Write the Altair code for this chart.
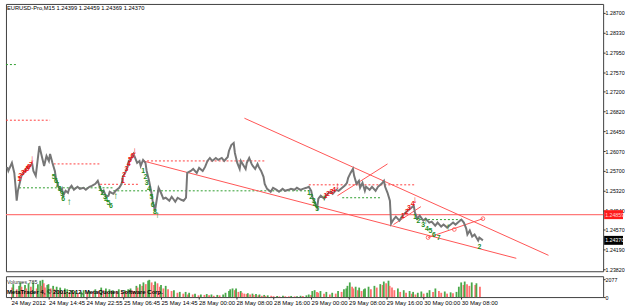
import altair as alt
import pandas as pd

# ---------------- data ----------------
bars = [
    1, 2, 5, 7, 8, 9, 10, 12, 13, 15,
    17, 19, 22, 23, 25, 26, 27, 28, 29, 31,
    32, 34, 36, 37, 39, 41, 42, 44, 46, 47,
    48, 50, 52, 53, 55, 57, 60, 62, 65, 67,
    70, 72, 75, 77, 79, 81, 82, 84, 86, 87,
    90, 92, 95, 97, 98, 100, 102, 103, 105, 107,
    108, 110, 112, 113, 115, 117, 118, 120, 122, 123,
    125, 127, 128, 130, 132, 134, 137, 139, 142, 144,
    147, 149, 151, 152, 155, 157, 160, 162, 165, 167,
    169, 171, 173, 176, 178, 181, 183, 186, 187, 189,
    191, 192, 194, 196, 197, 199, 201, 202, 204, 206,
    207, 209, 211, 212, 214, 216, 217, 219, 222, 224,
    227, 229, 232, 234, 237, 239, 242, 244, 247, 249,
    252, 254, 256, 257, 259, 261, 262, 264, 267, 269,
    272, 274, 277, 279, 282, 284, 286, 287, 289, 291,
    292, 294, 296, 297, 299, 301, 302, 305, 307, 310,
    312, 315, 317, 318, 320, 322, 323, 325, 327, 330,
    332, 335, 337, 340, 342, 343, 345, 347, 350, 352,
    355, 357, 360, 362, 365, 367, 370, 372, 375, 377,
    380, 382, 384, 386, 387, 389, 391, 393, 396, 397,
    400,
]

close = [
    1.25768, 1.25692, 1.25844, 1.25654, 1.25408, 1.25124, 1.25313, 1.25503, 1.25598, 1.25654,
    1.25730, 1.25768, 1.25825, 1.25692, 1.25598, 1.25787, 1.25976, 1.26165, 1.26071, 1.25882,
    1.25787, 1.25976, 1.25882, 1.26014, 1.25844, 1.25692, 1.25541, 1.25389, 1.25313, 1.25351,
    1.25219, 1.25313, 1.25276, 1.25351, 1.25408, 1.25332, 1.25389, 1.25351, 1.25370, 1.25332,
    1.25389, 1.25408, 1.25446, 1.25503, 1.25370, 1.25276, 1.25313, 1.25200, 1.25219, 1.25295,
    1.25257, 1.25313, 1.25370, 1.25446, 1.25579, 1.25654, 1.25768, 1.25882, 1.25920, 1.26014,
    1.25957, 1.25844, 1.25882, 1.25787, 1.25901, 1.25844, 1.25692, 1.25503, 1.25276, 1.25124,
    1.24935, 1.25219, 1.25370, 1.25276, 1.25162, 1.25181, 1.25124, 1.25200, 1.25105, 1.25181,
    1.25143, 1.25124, 1.25181, 1.25654, 1.25692, 1.25730, 1.25654, 1.25749, 1.25692, 1.25768,
    1.25882, 1.25938, 1.25882, 1.25938, 1.25901, 1.25938, 1.25882, 1.25957, 1.26071, 1.26184,
    1.26222, 1.26033, 1.25844, 1.25730, 1.25882, 1.25806, 1.25730, 1.25844, 1.25938, 1.25825,
    1.25787, 1.25730, 1.25825, 1.25768, 1.25692, 1.25579, 1.25446, 1.25351, 1.25295, 1.25370,
    1.25332, 1.25295, 1.25351, 1.25313, 1.25332, 1.25351, 1.25332, 1.25370, 1.25332, 1.25351,
    1.25370, 1.25389, 1.25313, 1.25200, 1.25086, 1.24992, 1.25162, 1.25219, 1.25162, 1.25238,
    1.25295, 1.25257, 1.25332, 1.25313, 1.25370, 1.25408, 1.25465, 1.25560, 1.25654, 1.25730,
    1.25598, 1.25446, 1.25503, 1.25370, 1.25465, 1.25313, 1.25389, 1.25332, 1.25389, 1.25313,
    1.25389, 1.25446, 1.25503, 1.25389, 1.25276, 1.25124, 1.24689, 1.24765, 1.24821, 1.24746,
    1.24821, 1.24897, 1.24935, 1.24992, 1.25030, 1.24897, 1.24783, 1.24840, 1.24746, 1.24783,
    1.24708, 1.24727, 1.24651, 1.24708, 1.24632, 1.24670, 1.24613, 1.24651, 1.24708, 1.24670,
    1.24727, 1.24765, 1.24708, 1.24594, 1.24480, 1.24556, 1.24442, 1.24480, 1.24367, 1.24424,
    1.24370,
]

volume = [
    1100, 1500, 900, 1300, 1700, 1200, 800, 1400, 1000, 1600,
    1200, 1700, 1000, 1500, 1900, 1300, 2000, 1600, 1100, 1400,
    1500, 1000, 1300, 900, 1200, 800, 1100, 700, 1000, 600,
    900, 500, 800, 600, 700, 400, 600, 800, 500, 700,
    600, 900, 700, 1100, 800, 1000, 600, 900, 700, 800,
    700, 900, 600, 800, 700, 900, 1000, 800, 700, 1300,
    1100, 1500, 1300, 1700, 1500, 1900, 2000, 1700, 1400, 1800,
    1600, 1200, 1400, 1000, 1300, 900, 700, 800, 500, 600,
    400, 600, 300, 500, 300, 400, 200, 300, 250, 350,
    200, 300, 150, 250, 200, 300, 500, 700, 900, 1000,
    800, 1000, 600, 700, 500, 400, 350, 450, 300, 400,
    250, 350, 200, 300, 150, 250, 120, 200, 150, 100,
    120, 80, 150, 100, 90, 130, 80, 100, 150, 120,
    200, 300, 250, 700, 800, 600, 500, 700, 400, 600,
    300, 500, 400, 700, 600, 900, 1000, 1300, 1700, 1200,
    1000, 1200, 800, 1100, 700, 900, 1000, 1200, 900, 1300,
    1100, 1500, 1400, 1800, 1600, 1900, 1300, 1100, 800, 1000,
    600, 800, 500, 700, 400, 600, 300, 500, 650, 400,
    500, 800, 600, 1000, 700, 500, 650, 400, 550, 450,
    600, 1200, 1700, 1400, 1800, 1500, 1300, 1700, 1400, 1600,
    1200,
]

price_ticks = [1.28700, 1.28330, 1.27950, 1.27570, 1.27200, 1.26820, 1.26450,
               1.26070, 1.25700, 1.25320, 1.24940, 1.24570, 1.24190, 1.23820]
time_labels = ["24 May 2012", "24 May 14:45", "24 May 22:55", "25 May 06:45",
               "25 May 14:45", "28 May 00:00", "28 May 08:00", "28 May 16:00",
               "29 May 00:00", "29 May 08:00", "29 May 16:00", "30 May 00:00",
               "30 May 08:00"]
label_bars = [0, 32, 64, 96, 128, 160, 192, 224, 256, 288, 320, 352, 384]

# trend lines
tl_bar0 = [115, 200, 278, 325, 354]
tl_p0 = [1.25882, 1.26695, 1.25219, 1.24670, 1.24424]
tl_bar1 = [428, 455, 320, 348, 400]
tl_p1 = [1.24028, 1.24085, 1.25825, 1.25012, 1.24783]

# dotted horizontal levels
lv_bar0 = [0, 0, 40, 11, 79, 90, 115, 254, 282, 344]
lv_bar1 = [37, 10, 79, 90, 111, 254, 218, 343, 315, 382]
lv_price = [1.26657, 1.27716, 1.25825, 1.25370, 1.25437, 1.25313, 1.25882,
            1.25427, 1.25181, 1.24765]
lv_kind = ["r", "g", "r", "g", "r", "g", "r", "r", "g", "g"]

# count annotations
ann_bar = [11, 12, 14, 16, 18, 19, 21, 22,
           98, 99, 101, 103, 104, 106, 108,
           268, 270, 273, 275, 278,
           333, 336, 338, 341, 343,
           40, 42, 43, 45, 47, 48, 53,
           79, 81, 83, 84, 86, 88, 92,
           115, 117, 118, 120, 122, 123, 125, 127,
           254, 256, 258, 259, 261, 267,
           343, 346, 350, 353, 356, 359, 363, 352, 371,
           397]
ann_price = [1.25541, 1.25598, 1.25654, 1.25692, 1.25730, 1.25768, 1.25806, 1.25920,
             1.25503, 1.25617, 1.25730, 1.25825, 1.25901, 1.25976, 1.26071,
             1.25219, 1.25257, 1.25295, 1.25332, 1.25408,
             1.24840, 1.24917, 1.24992, 1.25068, 1.25143,
             1.25579, 1.25503, 1.25427, 1.25351, 1.25257, 1.25162, 1.25105,
             1.25351, 1.25276, 1.25200, 1.25143, 1.25086, 1.25030, 1.25219,
             1.25692, 1.25579, 1.25465, 1.25351, 1.25200, 1.25049, 1.24917, 1.24859,
             1.25276, 1.25200, 1.25124, 1.25049, 1.24974, 1.25181,
             1.24821, 1.24746, 1.24670, 1.24594, 1.24539, 1.24480, 1.24424, 1.24746, 1.24632,
             1.24236]
ann_text = ["1", "2", "3", "4", "5", "6", "7", "↓",
            "1", "2", "3", "4", "5", "6", "↓",
            "1", "2", "3", "4", "↓",
            "1", "2", "3", "4", "↓",
            "5", "6", "7", "8", "9", "6", "↑",
            "1", "2", "3", "4", "5", "6", "↑",
            "1", "2", "3", "4", "5", "6", "8", "↑",
            "1", "2", "3", "4", "5", "↑",
            "1", "2", "3", "4", "5", "6", "7", "↑", "↑",
            "2"]
ann_kind = ["r"] * 25 + ["g"] * 38

circle_bar = [354, 376, 400]
circle_price = [1.24424, 1.24577, 1.24783]

support_price = 1.24859
last_price = 1.24370
header = "EURUSD-Pro,M15  1.24399 1.24459 1.24369 1.24370"

# ---------------- chart ----------------
W, HM, HV = 601, 269, 21
FONT = "Liberation Sans"
FS = 5.3
xs = alt.Scale(domain=[0, W / 1.2], nice=False, zero=False)
ys = alt.Scale(domain=[1.23782, 1.28870], nice=False, zero=False)
yax = alt.Axis(orient="right", values=price_ticks, format=".5f", labelFont=FONT,
               labelFontSize=FS, labelColor="black", tickSize=2, tickColor="#333",
               labelPadding=0, grid=False, domain=False, labelOverlap=False)

price_df = pd.DataFrame({"bar": bars, "price": close})
tl_df = pd.DataFrame({"b0": tl_bar0, "p0": tl_p0, "b1": tl_bar1, "p1": tl_p1})
lv_df = pd.DataFrame({"b0": lv_bar0, "b1": lv_bar1, "price": lv_price,
                      "col": ["#ff4040" if k == "r" else "#2e9e2e" for k in lv_kind]})
ann_df = pd.DataFrame({"bar": ann_bar, "price": ann_price, "t": ann_text,
                       "col": ["#ee1111" if k == "r" else "#1e8c1e" for k in ann_kind]})
ann_df["size"] = [10 if t in ("↑", "↓") else 7 for t in ann_text]
circ_df = pd.DataFrame({"bar": circle_bar, "price": circle_price})
box_df = pd.DataFrame({"price": [support_price, last_price],
                       "lbl": [f"{support_price:.5f}", f"{last_price:.5f}"],
                       "bg": ["#ff1a1a", "#000000"], "fg": ["#ffd0d0", "#ffffff"]})

levels = alt.Chart(lv_df).mark_rule(strokeDash=[2, 2], strokeWidth=1).encode(
    x=alt.X("b0:Q", scale=xs, axis=None), x2="b1:Q",
    y=alt.Y("price:Q", scale=ys, axis=yax, title=None),
    color=alt.Color("col:N", scale=None))

support = alt.Chart(pd.DataFrame({"price": [support_price]})).mark_rule(
    color="#ff7a7a", strokeWidth=1.3).encode(
    y=alt.Y("price:Q", scale=ys, axis=yax, title=None))

trends = alt.Chart(tl_df).mark_rule(color="#ff5555", strokeWidth=1).encode(
    x=alt.X("b0:Q", scale=xs, axis=None), x2="b1:Q",
    y=alt.Y("p0:Q", scale=ys, axis=yax, title=None), y2="p1:Q")

line = alt.Chart(price_df).mark_line(color="#767676", strokeWidth=2).encode(
    x=alt.X("bar:Q", scale=xs, axis=None),
    y=alt.Y("price:Q", scale=ys, axis=yax, title=None))

ann = alt.Chart(ann_df).mark_text(font=FONT, fontWeight="bold").encode(
    x=alt.X("bar:Q", scale=xs, axis=None),
    y=alt.Y("price:Q", scale=ys, axis=yax, title=None),
    text="t:N", color=alt.Color("col:N", scale=None),
    size=alt.Size("size:Q", scale=None, legend=None))

circles = alt.Chart(circ_df).mark_point(shape="circle", filled=False, color="#ff3030",
                                         size=14, strokeWidth=1).encode(
    x=alt.X("bar:Q", scale=xs, axis=None),
    y=alt.Y("price:Q", scale=ys, axis=yax, title=None))

head = alt.Chart(pd.DataFrame({"t": [header]})).mark_text(
    font=FONT, fontSize=5.8, align="left", baseline="middle", color="black").encode(
    text="t:N", x=alt.value(1), y=alt.value(4))

boxes = alt.Chart(box_df).transform_calculate(
    lo="datum.price - 0.00085", hi="datum.price + 0.00085").mark_rect().encode(
    x=alt.value(W + 1), x2=alt.value(W + 20),
    y=alt.Y("lo:Q", scale=ys, axis=yax, title=None), y2="hi:Q",
    color=alt.Color("bg:N", scale=None))
box_txt = alt.Chart(box_df).mark_text(font=FONT, fontSize=FS, align="left",
                                      baseline="middle").encode(
    x=alt.value(W + 2),
    y=alt.Y("price:Q", scale=ys, axis=yax, title=None),
    text="lbl:N", color=alt.Color("fg:N", scale=None))

main = alt.layer(levels, support, trends, line, ann, circles, head, boxes, box_txt
                 ).properties(width=W, height=HM)

# volume panel
vol_df = pd.DataFrame({"bar": bars, "vol": volume})
vol_df["col"] = ["#4aa84a" if i > 0 and v > volume[i - 1] else "#ff6f6f"
                 for i, v in enumerate(volume)]
label_expr = "[" + ",".join(f"'{t}'" for t in time_labels) + "][round(datum.value/32)]"
vxs = alt.Axis(values=label_bars, labelExpr=label_expr, labelAlign="left",
               labelFont=FONT, labelFontSize=6, labelColor="black", tickSize=2,
               tickColor="#333", labelPadding=0, grid=False, domain=False,
               labelOverlap=False, labelFlush=False, title=None)
vys = alt.Axis(orient="right", values=[0, 2077], format="d", labelFont=FONT,
               labelFontSize=FS, labelColor="black", tickSize=2, tickColor="#333",
               labelPadding=0, grid=False, domain=False, title=None)
vscale = alt.Scale(domain=[0, 2420], nice=False)

vbars = alt.Chart(vol_df).mark_bar(width=1.8).encode(
    x=alt.X("bar:Q", scale=xs, axis=vxs),
    y=alt.Y("vol:Q", scale=vscale, axis=vys),
    color=alt.Color("col:N", scale=None))
vtxt = alt.Chart(pd.DataFrame({"t": ["Volumes 785"]})).mark_text(
    font=FONT, fontSize=FS, align="left", baseline="middle", color="#333").encode(
    text="t:N", x=alt.value(1), y=alt.value(6))
mq = alt.Chart(pd.DataFrame({"t": ["MetaTrader 4, © 2001-2012, MetaQuotes Software Corp."]})).mark_text(
    font=FONT, fontSize=6, fontWeight="bold", align="left", baseline="middle",
    color="black").encode(text="t:N", x=alt.value(1), y=alt.value(16))

vol = alt.layer(vbars, vtxt, mq).properties(width=W, height=HV)

chart = alt.vconcat(main, vol, spacing=2).properties(
    padding={"left": 2, "top": 2, "right": 0, "bottom": -1},
    background="white"
).configure_view(stroke="#404040", strokeWidth=1)

chart.save("out.html", embed_options={"renderer": "svg", "actions": False})
